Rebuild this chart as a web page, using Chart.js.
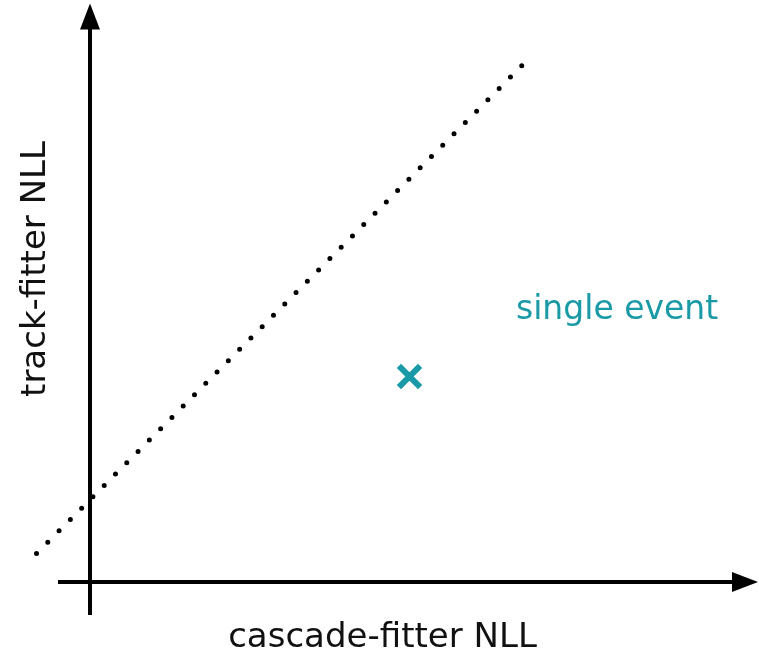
<!DOCTYPE html>
<html>
<head>
<meta charset="utf-8">
<title>track-fitter vs cascade-fitter NLL</title>
<script src="https://cdn.jsdelivr.net/npm/chart.js@4.4.1/dist/chart.umd.min.js"></script>
<style>
    body { margin: 0; background: #ffffff; }
    #wrap { width: 759px; height: 652px; }
</style>
</head>
<body>
<div id="wrap"><canvas id="nllChart"></canvas></div>
<script>
// Axis titles and the annotation text
const xTitle = 'cascade-fitter NLL';
const yTitle = 'track-fitter NLL';
const eventLabel = 'single event';

// Dotted diagonal (track NLL = cascade NLL + offset), two end points
const diagX = [-1.07, 8.66];
const diagY = [0.57, 10.35];

// The single event marker
const eventX = [6.39];
const eventY = [4.11];

// Where the annotation text sits (left edge / baseline) in data units
const labelX = [8.52];
const labelY = [5.26];

// Extent of the drawn axes in data units
const xAxisRange = [-0.64, 13.36];
const yAxisRange = [-0.66, 11.57];

const teal = '#1a9aa6';
const titleFont = '34px "DejaVu Sans", "Open Sans", sans-serif';
const labelFont = '33px "DejaVu Sans", "Open Sans", sans-serif';

// Plugin that draws the arrow axes and all text using the chart's scales
const schematicAxes = {
    id: 'schematicAxes',
    afterDatasetsDraw(chart) {
        const c = chart.ctx;
        const xs = chart.scales.x;
        const ys = chart.scales.y;
        const x0 = xs.getPixelForValue(0);
        const y0 = ys.getPixelForValue(0);

        c.save();
        c.strokeStyle = '#000000';
        c.fillStyle = '#000000';
        c.lineWidth = 4;

        // horizontal axis with arrow head
        const xa = xs.getPixelForValue(xAxisRange[0]);
        const xb = xs.getPixelForValue(xAxisRange[1]);
        c.beginPath();
        c.moveTo(xa, y0);
        c.lineTo(xb - 20, y0);
        c.stroke();
        c.beginPath();
        c.moveTo(xb, y0);
        c.lineTo(xb - 26, y0 - 10);
        c.lineTo(xb - 26, y0 + 10);
        c.closePath();
        c.fill();

        // vertical axis with arrow head
        const ya = ys.getPixelForValue(yAxisRange[0]);
        const yb = ys.getPixelForValue(yAxisRange[1]);
        c.beginPath();
        c.moveTo(x0, ya);
        c.lineTo(x0, yb + 20);
        c.stroke();
        c.beginPath();
        c.moveTo(x0, yb);
        c.lineTo(x0 - 10, yb + 26);
        c.lineTo(x0 + 10, yb + 26);
        c.closePath();
        c.fill();

        // axis titles
        c.font = titleFont;
        c.fillStyle = '#111111';
        c.textAlign = 'center';
        c.textBaseline = 'alphabetic';
        c.fillText(xTitle, (xs.left + xs.right) / 2 + 3, chart.height - 5);

        c.save();
        c.translate(45, (ys.top + ys.bottom) / 2 - 57);
        c.rotate(-Math.PI / 2);
        c.fillText(yTitle, 0, 0);
        c.restore();

        // annotation next to the event marker
        c.font = labelFont;
        c.fillStyle = teal;
        c.textAlign = 'left';
        c.fillText(eventLabel, xs.getPixelForValue(labelX[0]), ys.getPixelForValue(labelY[0]));

        c.restore();
    }
};

const ctx = document.getElementById('nllChart').getContext('2d');

new Chart(ctx, {
    type: 'scatter',
    data: {
        datasets: [
            {
                // dotted diagonal drawn as a line with round zero-length dashes
                type: 'line',
                data: diagX.map((x, i) => ({ x: x, y: diagY[i] })),
                borderColor: '#000000',
                borderWidth: 5,
                borderDash: [0, 16],
                borderCapStyle: 'round',
                pointRadius: 0,
                fill: false
            },
            {
                // single event cross
                data: eventX.map((x, i) => ({ x: x, y: eventY[i] })),
                pointStyle: 'crossRot',
                pointRadius: 15,
                pointBorderWidth: 6,
                borderColor: teal,
                backgroundColor: teal
            }
        ]
    },
    options: {
        responsive: true,
        maintainAspectRatio: false,
        animation: false,
        layout: { padding: 0, autoPadding: false },
        plugins: {
            legend: { display: false },
            tooltip: { enabled: false }
        },
        scales: {
            x: { type: 'linear', display: false, min: -1.8, max: 13.38 },
            y: { type: 'linear', display: false, min: -1.4, max: 11.64 }
        }
    },
    plugins: [schematicAxes]
});
</script>
</body>
</html>
